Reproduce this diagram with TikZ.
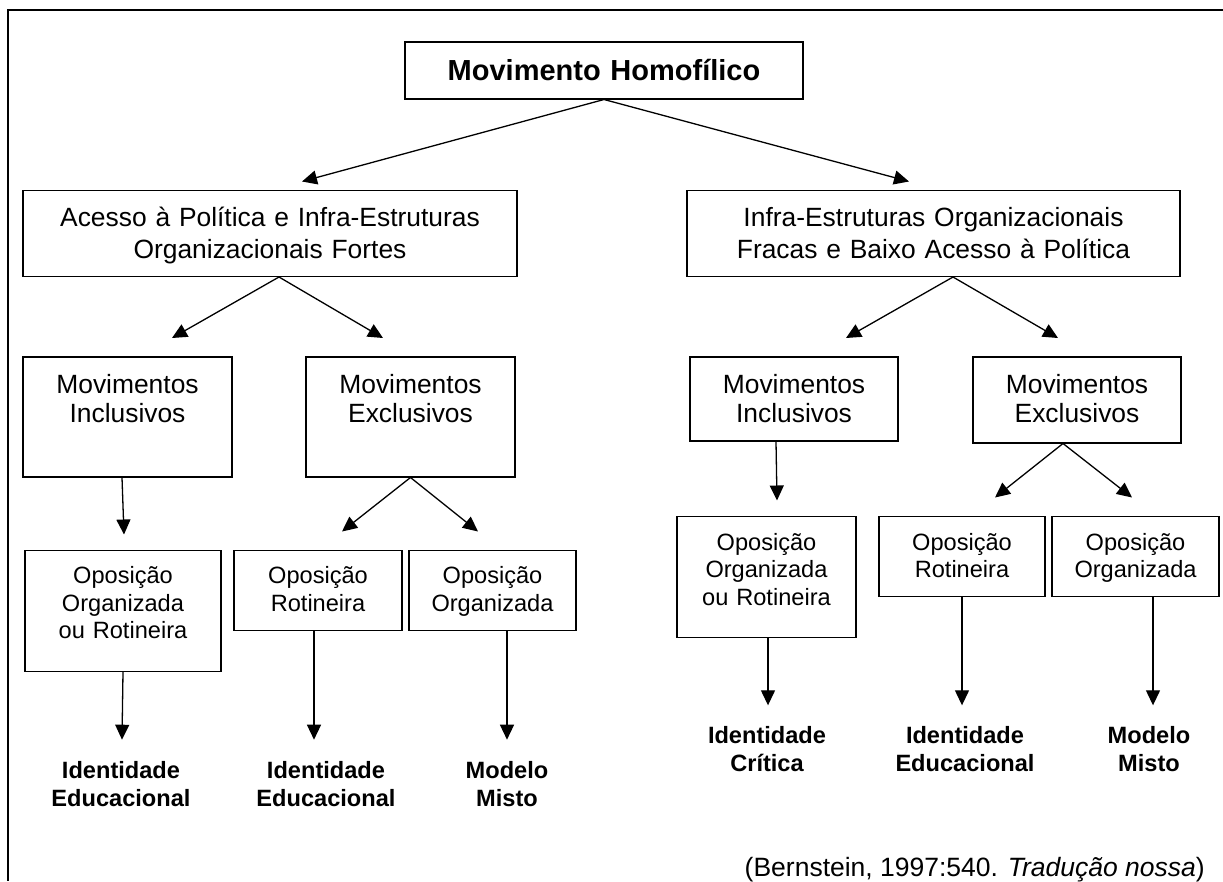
\documentclass[tikz,border=0pt]{standalone}
\usepackage{fontspec}
\setmainfont{Liberation Sans}
\usetikzlibrary{arrows.meta,positioning}

\begin{document}
\begin{tikzpicture}[x=1pt, y=-1pt, box/.style={draw,line width=1.5pt,align=center,inner sep=0pt}, big/.style={font=\fontsize{26.4}{32}\selectfont}, mid/.style={font=\fontsize{26.4}{29}\selectfont}, small/.style={font=\fontsize{23.6}{27.5}\selectfont}, result/.style={font=\bfseries\fontsize{23.6}{28}\selectfont,align=center,inner sep=0pt,text width=160pt,text height=17pt}, arrow/.style={-{Triangle[length=15pt,width=14pt]},line width=1.3pt}]
\useasboundingbox (0,0) rectangle (1223,881);
\draw[line width=2pt] (1223,10) -- (8,10) -- (8,881);
\node[box, anchor=north, font=\bfseries\fontsize{29}{34}\selectfont, text width=398pt, text height=39pt, text depth=18pt] (homo) at (604,41) {Movimento Homofílico};
\node[box, big, below=90pt of homo, xshift=-334pt, text width=494pt, text height=36.5pt, text depth=49.5pt] (acesso) {Acesso à Política e Infra-Estruturas\\Organizacionais Fortes};
\node[box, big, below=90pt of homo, xshift=329.5pt, text width=493pt, text height=36.5pt, text depth=49.5pt] (infra) {Infra-Estruturas Organizacionais\\Fracas e Baixo Acesso à Política};
\node[box, mid, below=79pt of acesso, xshift=-142.5pt, text width=209pt, text height=36.3pt, text depth=83.7pt] (inclL) {Movimentos\\Inclusivos};
\node[box, mid, below=79pt of acesso, xshift=140.5pt, text width=209pt, text height=36.3pt, text depth=83.7pt] (exclL) {Movimentos\\Exclusivos};
\node[box, mid, below=79pt of infra, xshift=-139.5pt, text width=208pt, text height=36.3pt, text depth=47.7pt] (inclR) {Movimentos\\Inclusivos};
\node[box, mid, below=79pt of infra, xshift=143.5pt, text width=208pt, text height=36.3pt, text depth=49.7pt] (exclR) {Movimentos\\Exclusivos};
\node[box, small, below=72pt of inclL, xshift=-4.5pt, text width=196pt, text height=33.3pt, text depth=87.7pt] (opL1) {Oposição\\Organizada\\ou Rotineira};
\node[box, small, below=72pt of exclL, xshift=-92.5pt, text width=168pt, text height=33.3pt, text depth=46.7pt] (opL2) {Oposição\\Rotineira};
\node[box, small, below=72pt of exclL, xshift=82pt, text width=167pt, text height=33.3pt, text depth=46.7pt] (opL3) {Oposição\\Organizada};
\node[box, small, below=74pt of inclR, xshift=-27.5pt, text width=179pt, text height=34pt, text depth=87pt] (opR1) {Oposição\\Organizada\\ou Rotineira};
\node[box, small, below=72pt of exclR, xshift=-115pt, text width=166pt, text height=34pt, text depth=46pt] (opR2) {Oposição\\Rotineira};
\node[box, small, below=72pt of exclR, xshift=58.5pt, text width=167pt, text height=34pt, text depth=46pt] (opR3) {Oposição\\Organizada};
\node[result, below=89.7pt of opL1, xshift=-2pt] (idL1) {Identidade\\Educacional};
\node[result, below=130.7pt of opL2, xshift=8pt] (idL2) {Identidade\\Educacional};
\node[result, below=130.7pt of opL3, xshift=14.5pt] (misL3) {Modelo\\Misto};
\node[result, below=88.3pt of opR1, xshift=0.5pt] (critR1) {Identidade\\Crítica};
\node[result, below=129.3pt of opR2, xshift=3pt] (idR2) {Identidade\\Educacional};
\node[result, below=129.3pt of opR3, xshift=13.5pt] (misR3) {Modelo\\Misto};
\node[anchor=base east, inner sep=0pt, font=\fontsize{26.5}{32}\selectfont] (fonte) at (1205,876) {(Bernstein, 1997:540. \textit{Tradução nossa})};
\draw[arrow] (homo.south) -- ([shift={(32pt,8pt)}]acesso.north);
\draw[arrow] (homo.south) -- ([shift={(-24.5pt,8pt)}]infra.north);
\draw[arrow] ([xshift=9pt]acesso.south) -- ([shift={(44.5pt,18pt)}]inclL.north);
\draw[arrow] ([xshift=9pt]acesso.south) -- ([shift={(-27.5pt,18pt)}]exclL.north);
\draw[arrow] ([xshift=19.5pt]infra.south) -- ([shift={(52pt,18pt)}]inclR.north);
\draw[arrow] ([xshift=19.5pt]infra.south) -- ([shift={(-19pt,18pt)}]exclR.north);
\draw[arrow] ([xshift=-5.5pt]inclL.south) -- ([shift={(1pt,15pt)}]opL1.north);
\draw[arrow] (exclL.south) -- ([shift={(24pt,18pt)}]opL2.north);
\draw[arrow] (exclL.south) -- ([shift={(-14.5pt,18pt)}]opL3.north);
\draw[arrow] ([xshift=-18pt]inclR.south) -- ([shift={(10.5pt,15pt)}]opR1.north);
\draw[arrow] ([xshift=-14pt]exclR.south) -- ([shift={(33pt,18pt)}]opR2.north);
\draw[arrow] ([xshift=-14pt]exclR.south) -- ([shift={(-3.5pt,18pt)}]opR3.north);
\draw[arrow] (opL1.south) -- ([shift={(1pt,22pt)}]idL1.north);
\draw[arrow] ([xshift=-4pt]opL2.south) -- ([shift={(-12pt,22pt)}]idL2.north);
\draw[arrow] ([xshift=14.5pt]opL3.south) -- ([yshift=22pt]misL3.north);
\draw[arrow] ([xshift=1.5pt]opR1.south) -- ([shift={(1pt,21pt)}]critR1.north);
\draw[arrow] (opR2.south) -- ([shift={(-3pt,21pt)}]idR2.north);
\draw[arrow] ([xshift=17.5pt]opR3.south) -- ([shift={(4pt,21pt)}]misR3.north);
\end{tikzpicture}
\end{document}
